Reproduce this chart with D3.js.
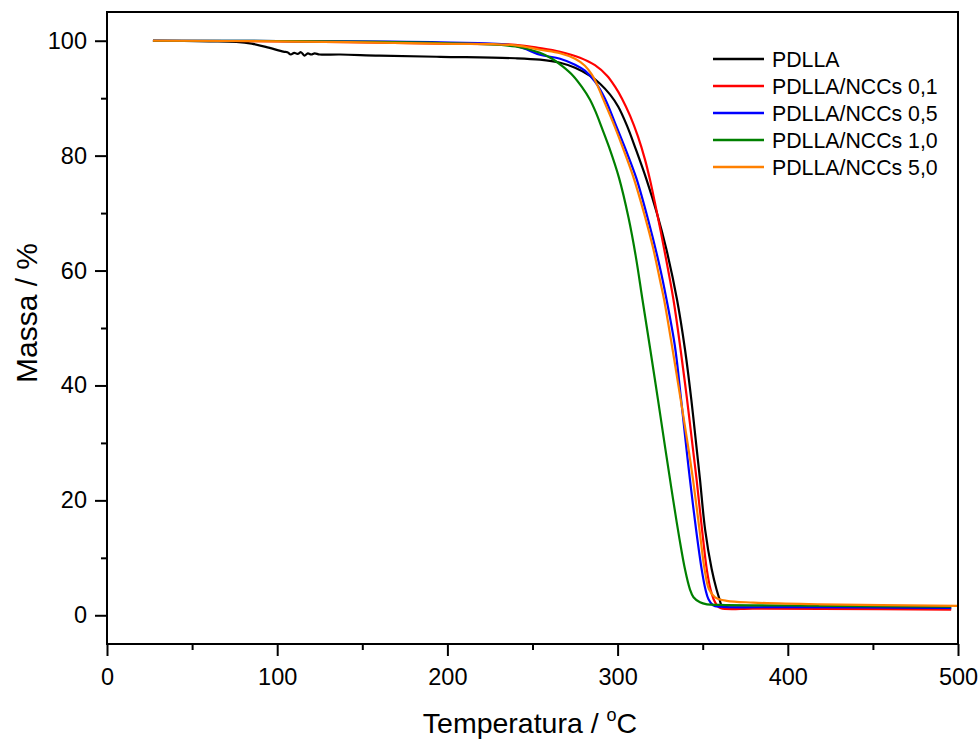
<!DOCTYPE html>
<html><head><meta charset="utf-8">
<script src="https://cdn.jsdelivr.net/npm/d3@7"></script>
<style>body{margin:0;background:#fff}svg{display:block}text{font-family:"Liberation Sans",Arial,sans-serif;fill:#000}</style>
</head><body>
<svg id="c" width="980" height="742"></svg>
<script>
const seriesNames = ["PDLLA","PDLLA/NCCs 0,1","PDLLA/NCCs 0,5","PDLLA/NCCs 1,0","PDLLA/NCCs 5,0"];
const seriesColors = ["#000000","#ff0000","#0000ff","#008000","#ff8000"];
const xTicks = [0,100,200,300,400,500];
const yTicks = [0,20,40,60,80,100];

const pdlla = [[27,100],[60,99.9],[76,99.8],[85,99.5],[95,98.8],[103.6,98.1],[106,98.0],[108,97.6],[110,97.9],[112,97.7],[114,98.0],[116,97.4],[118,97.8],[120,97.6],[122,97.8],[125,97.6],[137,97.6],[160,97.4],[196,97.2],[240,96.95],[254.4,96.7],[266.2,96.17],[275,95.3],[283.8,93.91],[289.7,92.52],[295.6,90.61],[300.4,88.52],[305.5,85.22],[310.8,81.04],[317,75.83],[323,70.09],[328.7,63.65],[334.9,54.96],[339.6,46.26],[343.3,37.57],[346.5,28.87],[348.4,23.65],[351.4,14.96],[355.3,8.0],[358.1,4.52],[359.9,2.78],[361.3,1.62],[365,1.4],[380,1.35],[420,1.3],[496,1.2]];
const ncc01 = [[27,100],[100,99.9],[196,99.5],[240,99.3],[254.4,98.73],[266.2,98.09],[277.9,97.04],[286.7,95.74],[293.8,93.91],[298.5,92.0],[302.6,89.91],[307.3,86.96],[312,83.3],[316.1,79.3],[319,75.83],[321.9,71.83],[324.9,67.48],[332.8,54.96],[337,46.26],[340.8,37.57],[344.3,28.87],[346.4,23.65],[349.6,14.96],[352.4,8.0],[354.6,4.52],[356.4,2.78],[358.4,1.74],[360.7,1.22],[380,1.15],[420,1.1],[496,1.0]];
const ncc05 = [[27,100],[100,99.95],[196,99.7],[240,99.1],[254.4,97.57],[266.2,96.87],[275,95.83],[280.8,94.78],[286.7,92.87],[292.6,89.91],[299.1,85.22],[305,80.87],[311.1,76.0],[317.9,68.87],[324.6,60.87],[328.4,55.48],[333.7,46.78],[337.3,37.57],[340.5,28.87],[342.5,23.65],[346.1,14.96],[349.4,8.0],[351.6,4.52],[353.4,2.78],[356.1,1.74],[360.2,1.48],[400,1.42],[496,1.3]];
const ncc10 = [[27,100],[100,99.95],[196,99.6],[240,99.0],[254.4,97.91],[261.5,96.87],[267.9,95.48],[273.8,93.91],[279.1,91.91],[283.8,89.74],[287.3,87.48],[290.7,84.87],[295.1,81.39],[300.8,76.17],[306.4,69.22],[310.8,62.26],[314.6,54.96],[319.2,46.26],[323.7,37.57],[328.1,28.87],[330.8,23.65],[332.6,20.17],[336.4,13.22],[339.6,8.0],[342.5,4.52],[344.6,3.13],[348.4,2.26],[352.5,1.91],[360,1.8],[400,1.7],[496,1.5]];
const ncc50 = [[27,100],[100,99.9],[196,99.5],[240,99.2],[254.4,98.43],[266.2,97.83],[275,96.87],[280.8,95.65],[284.9,94.09],[288.5,92.0],[291.4,89.91],[297.6,85.57],[302.6,81.74],[309,76.52],[316.1,69.39],[320.8,64.0],[325.2,57.91],[327.3,54.96],[332.3,46.26],[336.4,38.78],[341.7,28.87],[344.3,23.65],[348.1,14.96],[351.1,8.0],[353.7,4.52],[357.3,3.13],[364.1,2.52],[379.7,2.21],[418.9,1.91],[500,1.62]];
const allSeries = [pdlla, ncc01, ncc05, ncc10, ncc50];

const svg = d3.select("#c");
const L = 107, R = 958, T = 12, B = 644;
const x = d3.scaleLinear().domain([0,500]).range([L,R]);
const y = d3.scaleLinear().domain([-5,105]).range([B,T]);

const line = d3.line().x(d=>x(d[0])).y(d=>y(d[1])).curve(d3.curveCatmullRom.alpha(0.5));
const gL = svg.append("g");
allSeries.forEach((s,i)=>{
  gL.append("path").attr("d",line(s)).attr("fill","none")
    .attr("stroke",seriesColors[i]).attr("stroke-width",2.2).attr("stroke-linejoin","round");
});

// frame
svg.append("rect").attr("x",L).attr("y",T).attr("width",R-L).attr("height",B-T)
  .attr("fill","none").attr("stroke","#000").attr("stroke-width",2);

const fam = "Liberation Sans, Arial, sans-serif";
// x axis
const xa = svg.append("g").attr("transform",`translate(0,${B})`)
  .call(d3.axisBottom(x).tickValues(xTicks).tickSize(12).tickPadding(12).tickFormat(d3.format("d")));
xa.select(".domain").remove();
xa.selectAll(".tick line").attr("stroke-width",2);
xa.selectAll("text").attr("font-size",23.5).attr("font-family",fam);
const xm = svg.append("g").attr("transform",`translate(0,${B})`)
  .call(d3.axisBottom(x).tickValues(xTicks.slice(0,-1).map(v=>v+50)).tickSize(6).tickFormat(""));
xm.select(".domain").remove();
xm.selectAll(".tick line").attr("stroke-width",2);

// y axis
const ya = svg.append("g").attr("transform",`translate(${L},0)`)
  .call(d3.axisLeft(y).tickValues(yTicks).tickSize(12).tickPadding(8).tickFormat(d3.format("d")));
ya.select(".domain").remove();
ya.selectAll(".tick line").attr("stroke-width",2);
ya.selectAll("text").attr("font-size",23.5).attr("font-family",fam);
const ym = svg.append("g").attr("transform",`translate(${L},0)`)
  .call(d3.axisLeft(y).tickValues(yTicks.map(v=>v+10).filter(v=>v<105)).tickSize(6).tickFormat(""));
ym.select(".domain").remove();
ym.selectAll(".tick line").attr("stroke-width",2);

// titles
const xt = svg.append("text").attr("x",530).attr("y",733).attr("text-anchor","middle").attr("font-size",28.5);
xt.append("tspan").text("Temperatura / ");
xt.append("tspan").text("o").attr("font-size",18).attr("dy",-12);
xt.append("tspan").text("C").attr("dy",12);

svg.append("text").attr("transform","translate(37,313) rotate(-90)").attr("text-anchor","middle")
  .attr("font-size",30).text("Massa / %");

// legend
const lg = svg.append("g");
seriesNames.forEach((n,i)=>{
  const yy = 59 + i*27;
  lg.append("line").attr("x1",713).attr("x2",764).attr("y1",yy).attr("y2",yy)
    .attr("stroke",seriesColors[i]).attr("stroke-width",2.5);
  lg.append("text").attr("x",772).attr("y",yy).attr("dy","0.36em").attr("font-size",21.3).text(n);
});
</script>
</body></html>
